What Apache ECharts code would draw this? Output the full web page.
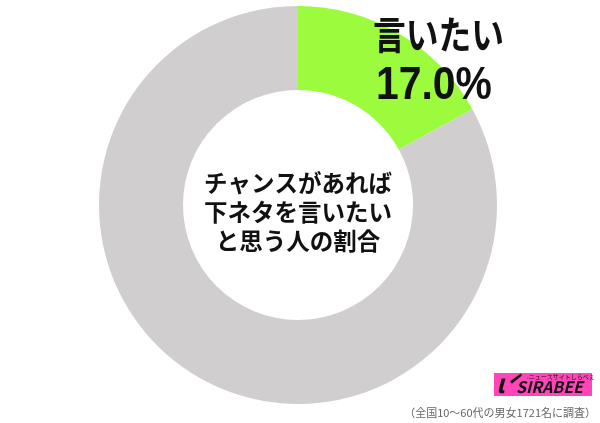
<!DOCTYPE html>
<html><head><meta charset="utf-8">
<script src="https://cdn.jsdelivr.net/npm/echarts@6/dist/echarts.min.js"></script>
<style>html,body{margin:0;padding:0;background:#fff}#c{width:600px;height:423px}</style>
</head><body><div id="c"></div>
<script>
const categories = ['言いたい', 'その他'];
const values = [17.0, 83.0];
const centerLines = ['チャンスがあれば', '下ネタを言いたい', 'と思う人の割合'];
const note = '（全国10～60代の男女1721名に調査）';
const colors = ['#9cfb3c', '#d0cecf'];
const FONT = '"Noto Sans CJK JP", "Noto Sans", sans-serif';

const chart = echarts.init(document.getElementById('c'), null, {renderer: 'canvas'});
chart.setOption({
  backgroundColor: '#fff',
  animation: false,
  series: [{
    type: 'pie',
    radius: [115, 199],
    center: [298, 205],
    startAngle: 90,
    clockwise: true,
    silent: true,
    z: 1,
    label: {show: false},
    labelLine: {show: false},
    data: categories.map((n, i) => ({name: n, value: values[i], itemStyle: {color: colors[i]}}))
  }],
  graphic: {elements: [
    {type: 'text', z: 100, x: 373, y: 34, scaleX: 0.84, originX: 0, style: {text: categories[0], font: 'bold 39px ' + FONT, fill: '#111', verticalAlign: 'middle'}},
    {type: 'text', z: 100, x: 376, y: 86, scaleX: 0.87, originX: 0, style: {text: values[0].toFixed(1) + '%', font: 'bold 47px "Liberation Sans", Arial, sans-serif', fill: '#111', verticalAlign: 'middle'}},
    {type: 'text', z: 100, x: 298, y: 212, style: {text: centerLines.join('\n'), font: 'bold 23.5px ' + FONT, fill: '#111', align: 'center', verticalAlign: 'middle', lineHeight: 29}},
    {type: 'rect', z: 100, shape: {x: 494, y: 373, width: 98, height: 23}, style: {fill: '#ff45b8'}},
    {type: 'text', z: 101, x: 496, y: 370, style: {text: 'ί', font: 'bold italic 26px ' + FONT, fill: '#111'}},
    {type: 'text', z: 101, x: 527, y: 374, style: {text: '.ニュースサイトしらべぇ', font: '6px ' + FONT, fill: '#111'}},
    {type: 'text', z: 101, x: 516, y: 379, style: {text: 'SIRABEE', font: 'bold italic 16px ' + FONT, fill: '#111'}},
    {type: 'text', z: 100, x: 596, y: 413, style: {text: note, font: '11px ' + FONT, fill: '#666', align: 'right', verticalAlign: 'middle'}}
  ]}
});
</script></body></html>
